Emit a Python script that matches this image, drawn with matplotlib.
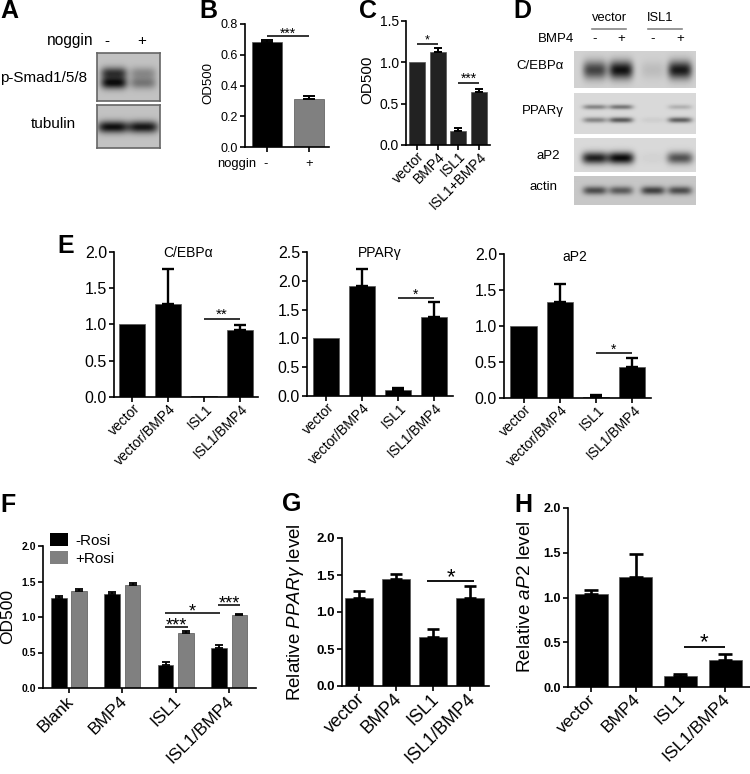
import numpy as np
import matplotlib
matplotlib.use("Agg")
import matplotlib.pyplot as plt
from matplotlib.ticker import FormatStrFormatter
from matplotlib.transforms import ScaledTranslation

plt.rcParams['font.family'] = ['Liberation Sans', 'DejaVu Sans']
plt.rcParams['mathtext.fontset'] = 'custom'
plt.rcParams['mathtext.rm'] = 'Liberation Sans'
plt.rcParams['mathtext.it'] = 'Liberation Sans:italic'
plt.rcParams['axes.linewidth'] = 1.2

W, H = 750, 774

# panel B
b_labels = ["-", "+"]
b_vals = [0.68, 0.31]
b_tops = [0.695, 0.33]
# panel C
c_labels = ["vector", "BMP4", "ISL1", "ISL1+BMP4"]
c_vals = [1.0, 1.13, 0.17, 0.64]
c_tops = [1.0, 1.17, 0.20, 0.68]
# panel E
e_labels = ["vector", "vector/BMP4", "ISL1", "ISL1/BMP4"]
e1_vals = [1.0, 1.28, 0.01, 0.93]
e1_tops = [1.0, 1.76, 0.01, 0.99]
e2_vals = [1.0, 1.91, 0.10, 1.37]
e2_tops = [1.0, 2.20, 0.14, 1.64]
e3_vals = [1.0, 1.33, 0.02, 0.43]
e3_tops = [1.0, 1.58, 0.04, 0.55]
# panel F
f_labels = ["Blank", "BMP4", "ISL1", "ISL1/BMP4"]
f_minus = [1.27, 1.33, 0.32, 0.57]
f_minus_tops = [1.30, 1.35, 0.37, 0.61]
f_plus = [1.37, 1.45, 0.78, 1.03]
f_plus_tops = [1.40, 1.48, 0.80, 1.04]
# panels G, H
gh_labels = ["vector", "BMP4", "ISL1", "ISL1/BMP4"]
g_vals = [1.19, 1.45, 0.66, 1.19]
g_tops = [1.28, 1.51, 0.77, 1.35]
h_vals = [1.04, 1.23, 0.12, 0.30]
h_tops = [1.08, 1.49, 0.15, 0.37]

# blot band strengths, one per lane
a_smad_upper = [0.70, 0.28]
a_smad_lower = [0.90, 0.38]
a_tubulin = [0.92, 0.88]
d_cebpa = [0.68, 0.92, 0.10, 0.88]
d_ppar_upper = [0.38, 0.45, 0.0, 0.18]
d_ppar_lower = [0.38, 0.58, 0.05, 0.55]
d_ap2 = [0.85, 0.95, 0.03, 0.62]
d_actin = [0.62, 0.55, 0.68, 0.62]

fig = plt.figure(figsize=(W / 100, H / 100), dpi=100)


def text(x, y, s, size=10, ha='center', va='center', **kw):
    fig.text(x / W, 1 - y / H, s, fontsize=size, ha=ha, va=va, **kw)


def panel(left, right, top, bottom, ymax, step, tick0, spacing, n=4):
    ax = fig.add_axes([left / W, 1 - bottom / H, (right - left) / W, (bottom - top) / H])
    ax.set_xlim((left - tick0) / spacing, (right - tick0) / spacing)
    ax.set_ylim(0, ymax)
    ax.set_yticks(np.arange(0, ymax + 0.01, step))
    ax.set_xticks(range(n))
    ax.spines['top'].set_visible(False)
    ax.spines['right'].set_visible(False)
    ax.patch.set_alpha(0)
    return ax


def bars(ax, x, vals, tops, width, color='black', capsize=4.0, lw=1.3):
    x = np.asarray(list(x), dtype=float)
    ax.bar(x, vals, width=width, color=color, edgecolor='#555555', linewidth=0.5)
    for xi, v, t in zip(x, vals, tops):
        if t > v:
            ax.errorbar([xi], [v], yerr=[[0], [t - v]], fmt='none', ecolor='black',
                        elinewidth=lw, capsize=capsize, capthick=lw)


def style(ax, labels, tick_size, label_size, bold=False, rot=45, pad=2, shift=0, lift=0):
    ax.yaxis.set_major_formatter(FormatStrFormatter('%.1f'))
    ax.tick_params(axis='y', length=3.5, width=1.2, pad=1.5, labelsize=tick_size)
    ax.tick_params(axis='x', length=3.5, width=1.2, pad=pad)
    if bold:
        for t in ax.get_yticklabels():
            t.set_fontweight('bold')
    ax.set_xticklabels(labels, rotation=rot, ha='right', rotation_mode='anchor', fontsize=label_size)
    off = ScaledTranslation(shift / 100, lift / 100, fig.dpi_scale_trans)
    for t in ax.get_xticklabels():
        t.set_transform(t.get_transform() + off)


def sig(ax, x0, x1, y, stars, size=10, dy=0.0, lw=1.2):
    ax.plot([x0, x1], [y, y], color='#111111', lw=lw, clip_on=False, solid_capstyle='butt')
    ax.text((x0 + x1) / 2, y + dy, stars, ha='center', va='center', fontsize=size, clip_on=False)


def blot(left, right, top, bottom, lanes, half_w, rows, bg):
    # rows: list of (y centre in px, half height in px, strengths)
    ax = fig.add_axes([left / W, 1 - bottom / H, (right - left) / W, (bottom - top) / H])
    xs = np.arange(left, right) + 0.5
    ys = np.arange(top, bottom) + 0.5
    gx, gy = np.meshgrid(xs, ys)
    dark = np.zeros_like(gx)
    for yc, hh, strengths in rows:
        for xc, s in zip(lanes, strengths):
            dark += s * np.exp(-((gx - xc) / half_w) ** 4 - ((gy - yc) / hh) ** 2)
    img = np.clip(bg * (1 - dark), 0.05, 1)
    ax.imshow(img, cmap='gray', vmin=0, vmax=1, aspect='auto', interpolation='bilinear')
    ax.set_xticks([])
    ax.set_yticks([])
    for s in ax.spines.values():
        s.set_visible(False)
    return ax


# A
ax_a = blot(97, 160, 53, 101, [114, 143], 13, [(73, 6, a_smad_upper), (83, 6, a_smad_lower)], 0.76)
for s in ax_a.spines.values():
    s.set_visible(True)
    s.set_color('#666666')
ax_a2 = blot(97, 160, 105, 148, [113, 143], 15, [(127, 6, a_tubulin)], 0.76)
for s in ax_a2.spines.values():
    s.set_visible(True)
    s.set_color('#666666')
text(94, 41, "noggin", 11.2, ha='right')
text(107, 41, "-", 11)
text(142, 41, "+", 11)
text(0, 78, "p-Smad1/5/8", 11, ha='left')
text(53, 124, "tubulin", 11)

# B
ax = panel(245, 329, 24, 147, 0.8, 0.2, 267, 41.5, n=2)
bars(ax, [0, 1], b_vals, b_tops, 30 / 41.5, color=['black', '#808080'], capsize=4.5, lw=1.4)
ax.set_xticklabels(["", ""])
ax.tick_params(axis='y', length=3.5, width=1.2, pad=1.5, labelsize=9)
ax.tick_params(axis='x', length=3.5, width=1.2)
ax.yaxis.set_major_formatter(FormatStrFormatter('%.1f'))
sig(ax, 0, 1, 0.72, "***", 10, dy=0.015)
text(208, 83, "OD500", 9.5, rotation=90)
text(256, 164, "noggin", 9.4, ha='right')
text(266, 164, b_labels[0], 9.4)
text(309, 164, b_labels[1], 9.4)

# C
ax = panel(406, 490, 21, 145, 1.5, 0.5, 417, 20.7)
bars(ax, range(4), c_vals, c_tops, 16 / 20.7, color='#222222', capsize=2.8, lw=1.4)
style(ax, c_labels, 10, 10, pad=1, shift=0, lift=2)
sig(ax, 0, 1, 1.22, "*", 9, dy=0.05)
sig(ax, 2, 3, 0.75, "***", 10, dy=0.05)
text(367, 80, "OD500", 11, rotation=90)

# D
lanes_d = [595, 621, 653, 680]
blot(574, 696, 51, 88, lanes_d, 12, [(70, 9, d_cebpa)], 0.82)
blot(574, 696, 93, 134, lanes_d, 12, [(107, 2.5, d_ppar_upper), (120, 2.8, d_ppar_lower)], 0.85)
blot(574, 696, 138, 172, lanes_d, 13, [(158, 6, d_ap2)], 0.85)
blot(574, 696, 176, 205, lanes_d, 12, [(191, 4, d_actin)], 0.78)
text(610, 18, "vector", 9.3)
text(660, 18, "ISL1", 9.3)
for x0, x1 in [(592, 626), (648, 682)]:
    fig.add_artist(plt.Line2D([x0 / W, x1 / W], [1 - 29 / H, 1 - 29 / H], color='#888888', lw=1.2))
text(574, 39, "BMP4", 9.5, ha='right')
for xc, s in zip(lanes_d, ["-", "+", "-", "+"]):
    text(xc, 39, s, 9.5)
text(564, 66, "C/EBPα", 9.5, ha='right')
text(564, 111, "PPARγ", 9.5, ha='right')
text(548, 156, "aP2", 9.5)
text(543, 187, "actin", 9.5)

# E
ax = panel(114, 258, 252, 397, 2.0, 0.5, 132, 36)
bars(ax, range(4), e1_vals, e1_tops, 26 / 36, capsize=4.2, lw=1.7)
style(ax, e_labels, 11.5, 10, shift=1, lift=3)
sig(ax, 2, 3, 1.08, "**", 11, dy=0.05)
text(188, 253, "C/EBPα", 10)

ax = panel(307, 453, 252, 396, 2.5, 0.5, 326, 36)
bars(ax, range(4), e2_vals, e2_tops, 26 / 36, capsize=4.2, lw=1.7)
style(ax, e_labels, 11.5, 10, shift=1, lift=3)
sig(ax, 2, 3, 1.70, "*", 10, dy=0.05)
text(380, 253, "PPARγ", 10)

ax = panel(504, 651, 254, 398, 2.0, 0.5, 523.5, 36.2)
bars(ax, range(4), e3_vals, e3_tops, 26 / 36, capsize=4.2, lw=1.7)
style(ax, e_labels, 11.5, 10, shift=1, lift=3)
sig(ax, 2, 3, 0.625, "*", 10, dy=0.05)
text(575, 257, "aP2", 10)

# F
ax = panel(43, 256, 546, 688, 2.0, 0.5, 69, 53.4)
x = np.arange(4)
off = 10.2 / 53.4
w = 15.5 / 53.4
bars(ax, x - off, f_minus, f_minus_tops, w, capsize=2.6, lw=1.3)
bars(ax, x + off, f_plus, f_plus_tops, w, color='#808080', capsize=2.6, lw=1.3)
style(ax, f_labels, 7.5, 12.5, bold=True, shift=-3, lift=2)
sig(ax, 1.8, 2.22, 0.86, "***", 13, dy=0.02)
sig(ax, 1.8, 2.83, 1.05, "*", 13, dy=0.02)
sig(ax, 2.79, 3.2, 1.17, "***", 13, dy=0.02)
h1 = ax.bar([0], [0], color='black')
h2 = ax.bar([0], [0], color='#808080')
leg = ax.legend([h1, h2], ["-Rosi", "+Rosi"], loc='upper left', frameon=False, fontsize=11,
                bbox_to_anchor=(50 / W, 1 - 533 / H), bbox_transform=fig.transFigure,
                borderpad=0, borderaxespad=0, handlelength=1.18, handleheight=0.95,
                handletextpad=0.45, labelspacing=0.2)
text(8, 617, "OD500", 12.5, rotation=90)

# G
ax = panel(342, 489, 538, 686, 2.0, 0.5, 359, 37)
bars(ax, range(4), g_vals, g_tops, 28 / 37, capsize=4.4, lw=1.9)
style(ax, gh_labels, 9.5, 13, bold=True, shift=-3, lift=3)
sig(ax, 1.85, 3.1, 1.42, "*", 16, dy=0.04, lw=1.4)
text(295, 612, r"Relative $\mathit{PPAR\gamma}$ level", 13.5, rotation=90)

# H
ax = panel(568, 750, 508, 687, 2.0, 0.5, 591, 44.7)
bars(ax, range(4), h_vals, h_tops, 33 / 44.7, capsize=5, lw=1.9)
style(ax, gh_labels, 9, 12.5, bold=True, shift=-3, lift=3)
sig(ax, 2.07, 3.0, 0.45, "*", 16, dy=0.04, lw=1.4)
text(526, 597, r"Relative $\mathit{aP2}$ level", 13.7, rotation=90)

# panel letters
for s, px, py in [("A", 0, 11), ("B", 199, 11), ("C", 359, 11), ("D", 513, 11),
                  ("E", 57, 246), ("F", 0, 505), ("G", 282, 504), ("H", 514, 505)]:
    text(px, py, s, 18, ha='left', fontweight='bold')

fig.savefig("out.png", dpi=100)
